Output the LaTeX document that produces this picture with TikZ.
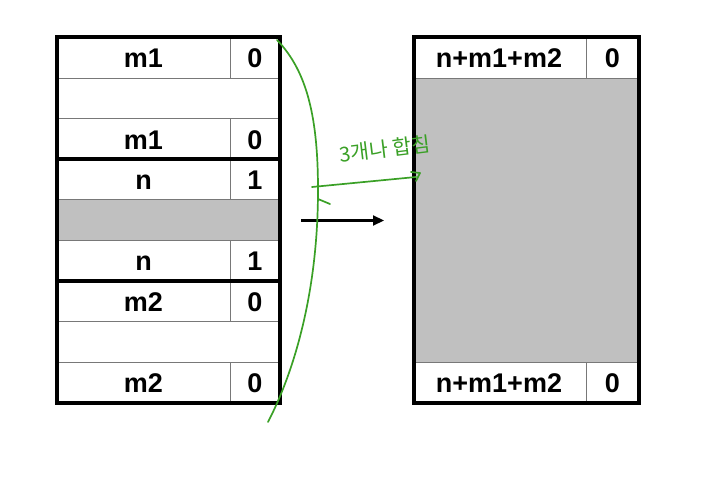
\documentclass[tikz,border=0pt]{standalone}
\usepackage{fontspec}
\setmainfont{Liberation Sans}
\newfontfamily\krfont{Noto Sans CJK KR}
\usetikzlibrary{arrows.meta}
\definecolor{hand}{RGB}{58,160,38}
\definecolor{cellgray}{RGB}{192,192,192}
\definecolor{thinline}{RGB}{120,120,120}
\tikzset{
  lbl/.style={font=\fontsize{27}{31}\selectfont\bfseries, inner sep=0pt, anchor=base},
  thin/.style={draw=thinline, line width=1pt},
  thick/.style={draw=black, line width=4pt},
  handline/.style={draw=hand, line width=1.7pt, line cap=round, line join=round}
}
\begin{document}
\begin{tikzpicture}[x=1pt,y=-1pt]
\useasboundingbox (0,0) rectangle (724,500);
% ---------- left column ----------
\fill[cellgray] (57,199.9) rectangle (280,240.5);
\foreach \yy in {78.1,118.7,199.9,240.5,321.7,362.3}
  \draw[thin] (57,\yy) -- (280,\yy);
\draw[thin] (230,37.5) -- (230,78.1);
\draw[thin] (230,118.7) -- (230,199.9);
\draw[thin] (230,240.5) -- (230,321.7);
\draw[thin] (230,362.3) -- (230,403);
\draw[thick] (57,37.5) rectangle (280,403);
\draw[thick] (57,159.3) -- (280,159.3);
\draw[thick] (57,281.1) -- (280,281.1);
\node[lbl] (a1) at (143.5,68) {m1};
\node[lbl] (b1) at (255,68) {0};
\node[lbl] (a3) at (143.5,149.2) {m1};
\node[lbl] (b3) at (255,149.2) {0};
\node[lbl] (a4) at (143.5,189.8) {n};
\node[lbl] (b4) at (255,189.8) {1};
\node[lbl] (a6) at (143.5,271) {n};
\node[lbl] (b6) at (255,271) {1};
\node[lbl] (a7) at (143.5,311.6) {m2};
\node[lbl] (b7) at (255,311.6) {0};
\node[lbl] (a9) at (143.5,392.8) {m2};
\node[lbl] (b9) at (255,392.8) {0};
% ---------- right column ----------
\fill[cellgray] (414,78.1) rectangle (639,362.3);
\draw[thin] (414,78.1) -- (639,78.1);
\draw[thin] (414,362.3) -- (639,362.3);
\draw[thin] (586,37.5) -- (586,78.1);
\draw[thin] (586,362.3) -- (586,403);
\draw[thick] (414,37.5) rectangle (639,403);
\node[lbl] (r1) at (499,68) {n+m1+m2};
\node[lbl] (s1) at (612.5,68) {0};
\node[lbl] (r9) at (499,392.8) {n+m1+m2};
\node[lbl] (s9) at (612.5,392.8) {0};
% ---------- arrow ----------
\coordinate (p) at (301,220.5);
\coordinate (q) at (384,220.5);
\draw[line width=2.2pt, -{Triangle[length=11pt,width=10pt]}] (p) -- (q);
% ---------- green annotation ----------
\draw[handline] (277,40) .. controls (308,72) and (318,120) .. (318,190)
  .. controls (318,290) and (295,370) .. (268,422);
\coordinate (h1) at (312,187);
\coordinate (h2) at (416,177);
\draw[handline] (h1) -- (h2);
\draw[handline] (411,172) -- (420,173) -- (416,181);
\draw[handline] (318,199) -- (330,204);
\node[text=hand, font=\krfont\fontsize{20.5}{24}\selectfont, rotate=7, inner sep=0pt] (note) at (385,149) {3개나 합침};
\end{tikzpicture}
\end{document}
